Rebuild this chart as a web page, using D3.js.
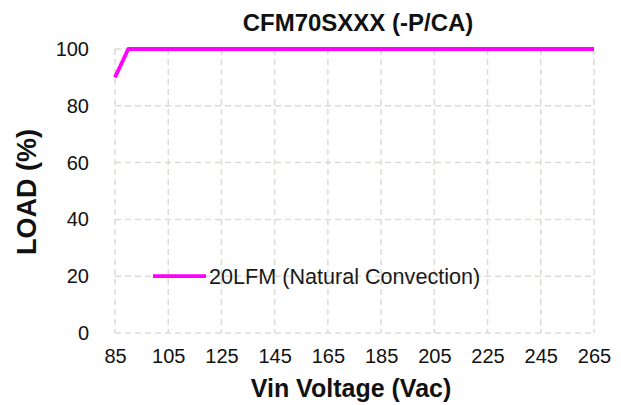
<!DOCTYPE html>
<html><head><meta charset="utf-8">
<script src="https://cdn.jsdelivr.net/npm/d3@7"></script>
<style>body{margin:0;background:#fff}svg{display:block}</style>
</head><body><svg id="c" width="621" height="405"></svg>
<script>
const xTicks = [85,105,125,145,165,185,205,225,245,265];
const yTicks = [0,20,40,60,80,100];
const vin = [85, 90, 265];
const load = [90, 100, 100];
const seriesName = "20LFM (Natural Convection)";
const title = "CFM70SXXX (-P/CA)";

const svg = d3.select("#c");
const L=115,R=594,T=49,B=333;
const x = d3.scaleLinear().domain([85,265]).range([L,R]);
const y = d3.scaleLinear().domain([0,100]).range([B,T]);
const font = "'Liberation Sans', Arial, sans-serif";

const g = svg.append("g");
g.selectAll(".vg").data(xTicks).join("line")
  .attr("x1",d=>x(d)).attr("x2",d=>x(d)).attr("y1",T).attr("y2",B)
  .attr("stroke","#dcdcd6").attr("stroke-width",1.5).attr("stroke-dasharray","6,4");
g.selectAll(".hg").data(yTicks).join("line")
  .attr("x1",L).attr("x2",R).attr("y1",d=>y(d)).attr("y2",d=>y(d))
  .attr("stroke","#dcdcd6").attr("stroke-width",1.5).attr("stroke-dasharray","6,4");

const yAxis = svg.append("g").attr("transform",`translate(${L},0)`)
  .call(d3.axisLeft(y).tickValues(yTicks).tickSize(0).tickPadding(26));
const xAxis = svg.append("g").attr("transform",`translate(0,${B})`)
  .call(d3.axisBottom(x).tickValues(xTicks).tickSize(0).tickPadding(16));
[xAxis,yAxis].forEach(a=>{
  a.select(".domain").remove();
  a.selectAll("text").attr("font-family",font).attr("font-size",20).attr("fill","#111");
});

const line = d3.line().x((d,i)=>x(vin[i])).y(d=>y(d));
svg.append("path").datum(load).attr("d",line).attr("fill","none")
  .attr("stroke","#ff00ff").attr("stroke-width",3.8).attr("stroke-linejoin","round");

svg.append("line").attr("x1",153).attr("x2",206).attr("y1",y(20)).attr("y2",y(20))
  .attr("stroke","#ff00ff").attr("stroke-width",3.8);
svg.append("text").attr("x",209).attr("y",y(20)).attr("dy","0.36em")
  .attr("font-family",font).attr("font-size",21.6).attr("fill","#1a1a1a").text(seriesName);

svg.append("text").attr("x",358).attr("y",31).attr("text-anchor","middle")
  .attr("font-family",font).attr("font-weight","bold").attr("font-size",24).attr("fill","#111").text(title);
svg.append("text").attr("x",351).attr("y",397).attr("text-anchor","middle")
  .attr("font-family",font).attr("font-weight","bold").attr("font-size",25).attr("fill","#111").text("Vin Voltage (Vac)");
svg.append("text").attr("transform",`translate(36,192) rotate(-90)`).attr("text-anchor","middle")
  .attr("font-family",font).attr("font-weight","bold").attr("font-size",27).attr("fill","#111").text("LOAD (%)");
</script></body></html>
